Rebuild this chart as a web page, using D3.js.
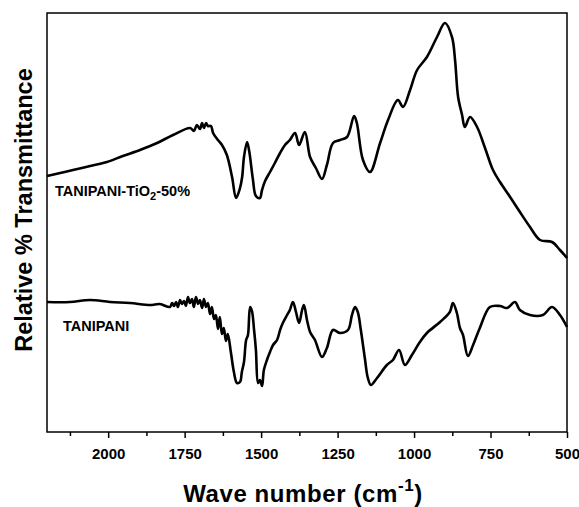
<!DOCTYPE html>
<html>
<head>
<meta charset="utf-8">
<script src="https://cdn.jsdelivr.net/npm/d3@7"></script>
<style>
  body { margin: 0; background: #fff; }
  text { font-family: Arial, "Liberation Sans", sans-serif; font-weight: bold; }
</style>
</head>
<body>
<svg id="chart" width="579" height="507"></svg>
<script>
// wave numbers (cm-1) and relative transmittance
var tioWave = [2200, 2157, 2115, 2059, 2004, 1952, 1896, 1840, 1788, 1732,
	1720, 1710, 1700, 1693, 1687, 1680, 1674, 1664, 1657, 1644,
	1628, 1612, 1595, 1582, 1569, 1562, 1556, 1546, 1539, 1527,
	1517, 1504, 1497, 1487, 1471, 1455, 1438, 1422, 1406, 1389,
	1376, 1357, 1340, 1321, 1301, 1285, 1265, 1242, 1219, 1196,
	1187, 1167, 1144, 1111, 1085, 1053, 1036, 1013, 990, 958,
	925, 899, 876, 866, 856, 843, 834, 817, 794, 768,
	742, 719, 686, 654, 621, 588, 549, 523, 500];
var tioTrans = [51.2, 51.8, 52.4, 53.2, 54.0, 55.2, 56.4, 57.8, 59.4, 60.8,
	60.2, 61.4, 60.6, 61.8, 60.8, 61.8, 61.2, 61.2, 59.8, 58.6,
	57.4, 55.4, 51.0, 46.8, 48.8, 51.0, 55.0, 58.0, 56.2, 50.6,
	47.2, 46.8, 48.4, 50.2, 52.0, 53.8, 55.8, 57.4, 58.4, 59.8,
	57.4, 60.0, 55.0, 52.8, 50.6, 53.4, 57.8, 58.4, 59.0, 63.2,
	61.8, 54.4, 52.0, 57.8, 62.4, 66.4, 65.0, 68.4, 72.4, 75.0,
	79.0, 81.8, 79.0, 74.4, 67.0, 63.4, 61.0, 63.0, 61.0, 56.8,
	52.4, 50.0, 47.0, 44.0, 41.0, 38.4, 38.0, 36.4, 34.8];

var paniWave = [2200, 2125, 2059, 1994, 1929, 1863, 1831, 1798, 1791, 1785,
	1778, 1772, 1765, 1759, 1752, 1746, 1739, 1733, 1726, 1720,
	1713, 1706, 1700, 1693, 1687, 1680, 1674, 1667, 1661, 1654,
	1648, 1641, 1635, 1628, 1622, 1615, 1609, 1599, 1589, 1579,
	1569, 1563, 1556, 1549, 1543, 1536, 1530, 1523, 1517, 1510,
	1504, 1497, 1491, 1481, 1471, 1461, 1448, 1438, 1429, 1415,
	1406, 1396, 1386, 1376, 1366, 1360, 1350, 1340, 1324, 1301,
	1285, 1265, 1242, 1216, 1203, 1193, 1184, 1174, 1161, 1151,
	1141, 1121, 1089, 1069, 1049, 1030, 1007, 981, 958, 915,
	883, 873, 860, 850, 840, 824, 807, 785, 752, 719,
	696, 670, 654, 621, 579, 549, 523, 500];
var paniTrans = [26.0, 26.0, 26.4, 26.0, 25.8, 25.4, 25.6, 25.0, 25.8, 25.2,
	26.0, 25.0, 26.4, 25.6, 26.2, 25.2, 27.0, 25.8, 26.6, 25.0,
	27.0, 25.6, 26.4, 24.8, 26.6, 25.0, 25.8, 23.6, 25.0, 22.6,
	23.4, 20.6, 23.0, 19.6, 20.8, 18.2, 19.6, 16.0, 12.0, 9.8,
	10.0, 12.0, 14.0, 18.4, 19.4, 25.0, 24.2, 20.4, 16.4, 9.8,
	10.4, 9.2, 12.4, 14.4, 16.0, 17.4, 18.4, 20.4, 21.8, 23.4,
	24.4, 26.0, 24.0, 21.8, 24.4, 25.4, 22.4, 20.0, 18.4, 15.0,
	16.8, 20.4, 19.8, 20.4, 23.4, 25.0, 24.0, 20.4, 14.8, 10.8,
	9.4, 10.8, 13.4, 14.4, 16.4, 13.4, 15.4, 18.0, 19.8, 22.0,
	24.0, 25.8, 23.8, 20.8, 19.4, 15.2, 17.4, 20.8, 25.0, 25.2,
	24.8, 26.0, 24.4, 23.4, 23.4, 25.0, 23.4, 21.0];

var majorTicks = [2000, 1750, 1500, 1250, 1000, 750, 500];
var minorTicks = [2125, 1875, 1625, 1375, 1125, 875, 625];

var margin = {top: 13, right: 12, bottom: 75, left: 47};
var svg = d3.select("#chart");
var width = +svg.attr("width") - margin.left - margin.right;
var height = +svg.attr("height") - margin.top - margin.bottom;
var g = svg.append("g").attr("transform", "translate(" + margin.left + "," + margin.top + ")");

var x = d3.scaleLinear().domain([2200, 500]).range([0, width]);
var y = d3.scaleLinear().domain([0, 83.8]).range([height, 0]);

var line = d3.line()
	.curve(d3.curveCatmullRom.alpha(0.5))
	.x(function(d) { return x(d[0]); })
	.y(function(d) { return y(d[1]); });

function drawSpectrum(wave, trans) {
	g.append("path")
		.datum(d3.zip(wave, trans))
		.attr("fill", "none")
		.attr("stroke", "#000")
		.attr("stroke-width", 2.6)
		.attr("stroke-linejoin", "round")
		.attr("d", line);
}
drawSpectrum(tioWave, tioTrans);
drawSpectrum(paniWave, paniTrans);

// frame
g.append("rect")
	.attr("width", width)
	.attr("height", height)
	.attr("fill", "none")
	.attr("stroke", "#000")
	.attr("stroke-width", 1.5);

var xAxis = g.append("g")
	.attr("transform", "translate(0," + height + ")")
	.call(d3.axisBottom(x).tickValues(majorTicks).tickSize(6).tickPadding(10).tickFormat(d3.format("d")));
xAxis.select(".domain").remove();
xAxis.selectAll("line").attr("stroke-width", 1.5);
xAxis.selectAll("text").attr("font-size", 15).attr("font-family", null);

var xMinor = g.append("g")
	.attr("transform", "translate(0," + height + ")")
	.call(d3.axisBottom(x).tickValues(minorTicks).tickSize(4).tickFormat(""));
xMinor.select(".domain").remove();
xMinor.selectAll("line").attr("stroke-width", 1.5);

// axis titles
var xt = svg.append("text")
	.attr("x", margin.left + width / 2 - 4)
	.attr("y", 502)
	.attr("text-anchor", "middle")
	.attr("font-size", 24)
	.attr("letter-spacing", 0.6)
	.text("Wave number (cm");
xt.append("tspan").attr("font-size", 17).attr("dy", -11).text("-1");
xt.append("tspan").attr("dy", 11).text(")");

svg.append("text")
	.attr("transform", "translate(32," + 210 + ") rotate(-90)")
	.attr("text-anchor", "middle")
	.attr("font-size", 23.5)
	.text("Relative % Transmittance");

// series labels
var lab = svg.append("text")
	.attr("x", 55)
	.attr("y", 196)
	.attr("font-size", 14.5)
	.text("TANIPANI-TiO");
lab.append("tspan").attr("font-size", 11).attr("dy", 4).text("2");
lab.append("tspan").attr("dy", -4).text("-50%");

svg.append("text")
	.attr("x", 63)
	.attr("y", 330.5)
	.attr("font-size", 14.5)
	.text("TANIPANI");
</script>
</body>
</html>
